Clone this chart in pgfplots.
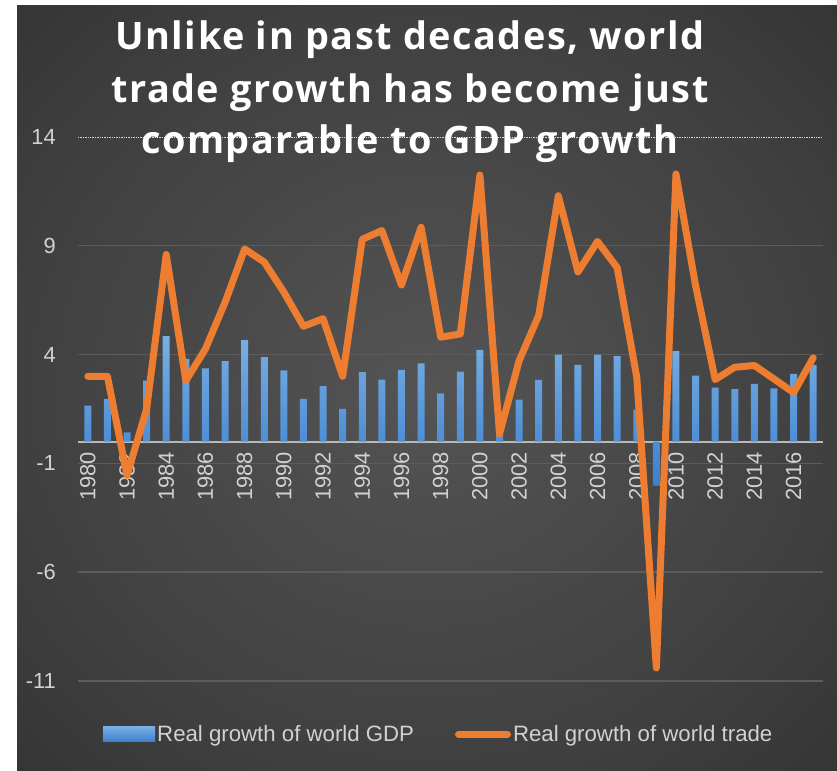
\documentclass[border=0pt]{standalone}
\usepackage{fontspec}
\setmainfont{Liberation Sans}
\newfontfamily\titlefont[LetterSpace=4]{Open Sans}
\usepackage{pgfplots}
\pgfplotsset{compat=1.18}
\definecolor{gridc}{RGB}{92,92,92}
\definecolor{tickc}{RGB}{210,210,210}
\definecolor{zeroc}{RGB}{185,185,185}
\definecolor{barTop}{RGB}{120,175,228}
\definecolor{barBot}{RGB}{60,128,205}
\definecolor{orangeL}{RGB}{237,125,49}
\pgfdeclareradialshading{bgshade}{\pgfpoint{0bp}{0bp}}{rgb(0bp)=(0.33,0.33,0.33); rgb(25bp)=(0.25,0.25,0.25); rgb(50bp)=(0.15,0.15,0.15); rgb(60bp)=(0.15,0.15,0.15)}
\pgfplotstableread{
year gdp trade
1980 1.66 3.0
1981 1.96 3.0
1982 0.43 -1.55
1983 2.80 1.5
1984 4.85 8.6
1985 3.80 2.8
1986 3.37 4.26
1987 3.70 6.4
1988 4.66 8.85
1989 3.88 8.25
1990 3.27 6.87
1991 1.96 5.3
1992 2.55 5.65
1993 1.50 3.0
1994 3.19 9.3
1995 2.85 9.7
1996 3.30 7.2
1997 3.60 9.85
1998 2.22 4.8
1999 3.22 4.95
2000 4.22 12.25
2001 0.40 0.35
2002 1.93 3.72
2003 2.84 5.8
2004 4.00 11.3
2005 3.53 7.8
2006 4.00 9.2
2007 3.93 8.0
2008 1.47 2.96
2009 -2.02 -10.4
2010 4.16 12.3
2011 3.03 7.17
2012 2.48 2.85
2013 2.41 3.42
2014 2.65 3.5
2015 2.45 2.88
2016 3.11 2.25
2017 3.53 3.85
}\datatable
\begin{document}
\begin{tikzpicture}[x=1bp,y=1bp]
\fill[white] (0,0) rectangle (837,771);
\shade[shading=bgshade] (17,0) rectangle (837,765);
\begin{axis}[
  at={(78bp,90bp)}, anchor=south west,
  scale only axis, width=745bp, height=544bp,
  xmin=1979.5, xmax=2017.5, ymin=-11, ymax=14,
  axis x line=middle, axis y line=left,
  x axis line style={-, draw=zeroc, line width=2bp},
  y axis line style={draw=none},
  xtick={1980,1982,...,2016},
  ytick={-11,-6,-1,4,9},
  extra y ticks={14},
  extra y tick style={grid style={densely dotted, draw=white!85!black, line width=0.8bp}},
  ymajorgrids,
  grid style={draw=gridc, line width=1.4bp},
  major tick length=0pt,
  tick style={draw=none},
  /pgf/number format/.cd, 1000 sep={}, assume math mode=true, /pgfplots/.cd,
  ticklabel style={font=\fontsize{22}{25}\selectfont, text=tickc},
  xticklabel style={rotate=90, anchor=east, inner sep=0pt, xshift=-10bp},
  yticklabel style={anchor=east, inner sep=0pt, xshift=-22bp},
  legend style={at={(axis description cs:0.0336,-0.098)}, anchor=west,
    draw=none, fill=none, inner sep=0pt,
    font=\fontsize{22.3}{26}\selectfont, text=tickc,
    /tikz/every even column/.append style={column sep=39bp}},
  legend columns=2,
  legend cell align=left,
]
\addplot[ybar, bar width=7bp, draw=none, top color=barTop, bottom color=barBot,
  legend image code/.code={\fill[top color=barTop,bottom color=barBot] (0bp,-7.5bp) rectangle (52bp,7.5bp);}]
  table[x=year, y=gdp] {\datatable};
\addlegendentry{Real growth of world GDP}
\addplot[orangeL, line width=7bp, line join=round, line cap=round,
  legend image code/.code={\draw[orangeL,line width=7bp,line cap=round] (3.5bp,0bp) -- (52.5bp,0bp);}]
  table[x=year, y=trade] {\datatable};
\addlegendentry{Real growth of world trade}
\end{axis}
\begin{scope}[every node/.style={anchor=base, text=white, inner sep=0pt, font=\titlefont\bfseries\fontsize{38}{52}\selectfont}]
\node at (410,721) {Unlike in past decades, world};
\node at (410,668) {trade growth has become just};
\node at (410,617) {comparable to GDP growth};
\end{scope}
\end{tikzpicture}
\end{document}
